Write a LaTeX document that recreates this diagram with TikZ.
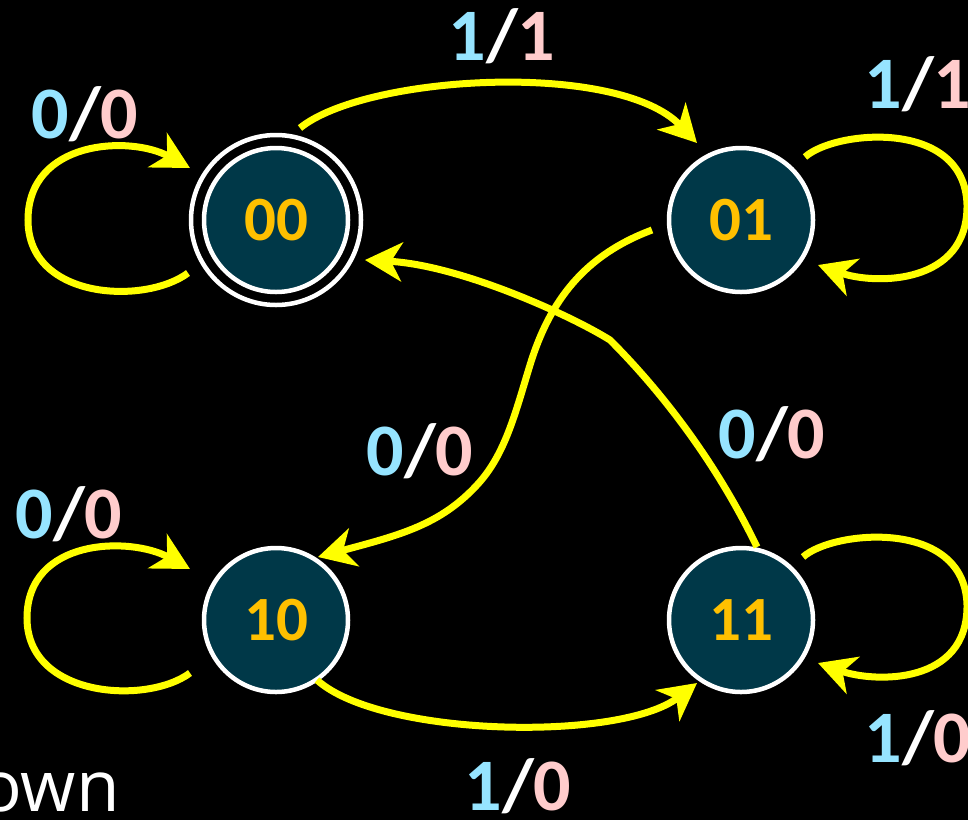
\documentclass[tikz,border=0pt]{standalone}
\usepackage{fontspec}
\setmainfont{Carlito}
\newfontfamily\ownfont{Open Sans}
\usetikzlibrary{arrows.meta,calc}
\definecolor{nodefill}{RGB}{0,56,72}
\definecolor{nodetext}{RGB}{255,192,0}
\definecolor{edgeyel}{RGB}{255,255,0}
\definecolor{inblue}{RGB}{150,228,255}
\definecolor{outpink}{RGB}{255,204,204}
\begin{document}
\begin{tikzpicture}[x=1pt,y=-1pt,
  state/.style={circle, draw=white, line width=4.5pt, fill=nodefill, minimum size=144pt,
    inner sep=0pt, text=nodetext, font=\fontsize{63}{70}\selectfont\bfseries},
  ring/.style={draw=white, line width=4.5pt},
  edge/.style={draw=edgeyel, line width=7pt, -{Stealth[length=37pt,width=39pt,inset=11pt]}},
  lbl/.style={anchor=base, inner sep=0pt, text=white, font=\fontsize{74}{80}\selectfont\bfseries},
  owntext/.style={anchor=base east, inner sep=0pt, text=white, font=\ownfont\fontsize{71}{80}\selectfont},
]
\useasboundingbox (0,0) rectangle (968,820);
\fill[black] (0,0) rectangle (968,820);

% states
\node[state] (n00) at (276,220) {00};
\draw[ring] (n00.center) circle[radius=85pt];
\node[state] (n01) at (741,220) {01};
\node[state] (n10) at (276,620) {10};
\node[state] (n11) at (741,620) {11};

% self loops
\draw[edge] ($(n00)+(-88,53)$) .. controls +(-43,32) and +(0,80) .. ($(n00)+(-248,0)$)
  .. controls +(0,-80) and +(-60,-33) .. ($(n00)+(-86,-52)$);
\draw[edge] ($(n10)+(-86,53)$) .. controls +(-43,32) and +(0,80) .. ($(n10)+(-249,-2)$)
  .. controls +(0,-80) and +(-60,-33) .. ($(n10)+(-86,-51)$);
\draw[edge] ($(n01)+(64,-63)$) .. controls +(30,-27) and +(-2,-87) .. ($(n01)+(226,-15)$)
  .. controls +(1,80) and +(57,20) .. ($(n01)+(77,45)$);
\draw[edge] ($(n11)+(62,-63)$) .. controls +(30,-27) and +(-2,-87) .. ($(n11)+(226,-15)$)
  .. controls +(1,80) and +(57,20) .. ($(n11)+(77,43)$);

% transitions
\draw[edge] ($(n00)+(24,-92)$) .. controls +(65,-53) and +(-79,-83) .. ($(n01)+(-44,-77)$);
\draw[edge] ($(n01)+(-89,10)$) .. controls (585,255) and (550,300) .. (530,365)
  .. controls (515,414) and (505,455) .. (477,485)
  .. controls (440,525) and (400,535) .. ($(n10)+(42,-63)$);
\draw[edge] ($(n11)+(16,-73)$) .. controls (715,460) and (660,390) .. (610,340)
  .. controls (570,315) and (460,265) .. ($(n00)+(89,40)$);
\draw[edge] ($(n10)+(41,60)$) .. controls +(63,57) and +(-77,59) .. ($(n11)+(-44,63)$);

% labels
\node[lbl] (l1) at (85,138) {\textcolor{inblue}{0}/\textcolor{outpink}{0}};
\node[lbl] (l2) at (502,60) {\textcolor{inblue}{1}/\textcolor{outpink}{1}};
\node[lbl] (l3) at (918,108) {\textcolor{inblue}{1}/\textcolor{outpink}{1}};
\node[lbl] (l4) at (420,475) {\textcolor{inblue}{0}/\textcolor{outpink}{0}};
\node[lbl] (l5) at (772,458) {\textcolor{inblue}{0}/\textcolor{outpink}{0}};
\node[lbl] (l6) at (69,538) {\textcolor{inblue}{0}/\textcolor{outpink}{0}};
\node[lbl] (l7) at (918,762) {\textcolor{inblue}{1}/\textcolor{outpink}{0}};
\node[lbl] (l8) at (518,810) {\textcolor{inblue}{1}/\textcolor{outpink}{0}};

\node[owntext] (own) at (120,811) {own};
\end{tikzpicture}
\end{document}
